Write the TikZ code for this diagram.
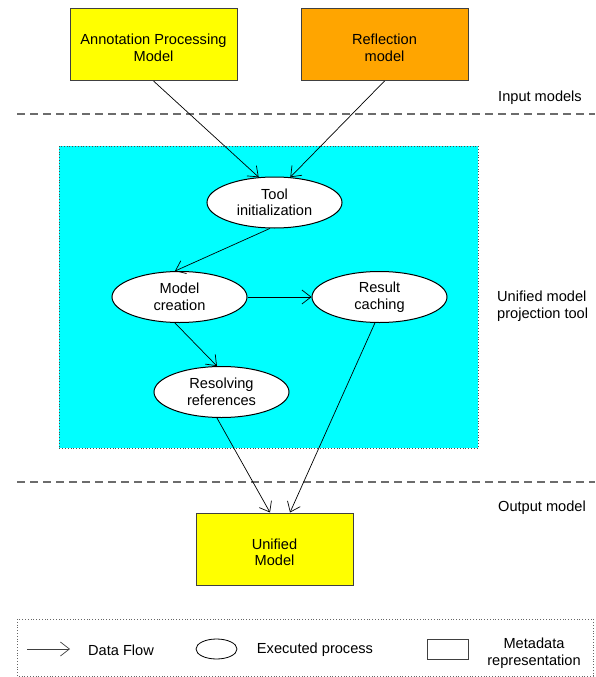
\documentclass[tikz,border=0pt]{standalone}
\usepackage{fontspec}
\setmainfont{Liberation Sans}
\usetikzlibrary{shapes.geometric,arrows.meta}
\definecolor{boxyellow}{HTML}{FFFF00}
\definecolor{boxorange}{HTML}{FFA500}
\definecolor{areacyan}{HTML}{00FFFF}
\definecolor{edgegray}{HTML}{404040}
\newcommand{\lowerfirst}{\rule{0pt}{17pt}}
\tikzset{
  txt/.style={font=\fontsize{14.6}{16.5}\selectfont, align=center, inner sep=0pt},
  modelbox/.style={txt, draw=edgegray, line width=1pt, rectangle, minimum width=167pt, minimum height=72pt},
  proc/.style={txt, draw=black, line width=1pt, fill=white, ellipse, minimum width=135pt, minimum height=51pt},
  flow/.style={draw=black, line width=0.7pt, -{Straight Barb[length=9pt,width=14pt,line width=0.7pt]}},
  sep/.style={draw=gray!85!black, line width=1.5pt, dash pattern=on 8pt off 5pt},
  sidelabel/.style={txt, anchor=west, align=left}
}
\begin{document}
\begin{tikzpicture}[x=1pt,y=-1pt]
\useasboundingbox (0,0) rectangle (595,677);
% separators
\draw[sep] (17,114) -- (595,114);
\draw[sep] (17,482) -- (595,482);
% cyan area
\draw[fill=areacyan, draw=black!70, line width=0.8pt, dotted] (59,146) rectangle (478,448);
% input models
\node[modelbox, fill=boxyellow] (apm) at (153.5,44.5) {\lowerfirst Annotation Processing\\Model};
\node[modelbox, fill=boxorange] (refl) at (384.5,44.5) {\lowerfirst Reflection\\model};
% processes
\node[proc] (tool) at (274.5,202.5) {Tool\\initialization};
\node[proc] (mc) at (179.5,297) {Model\\creation};
\node[proc] (rc) at (379.5,297) {Result\\caching};
\node[proc] (rr) at (221.5,392) {Resolving\\references};
% output
\node[modelbox, fill=boxyellow, minimum width=157pt] (um) at (274.5,549) {\lowerfirst Unified\\Model};
% side labels
\node[sidelabel] (lin) at (498,98) {Input models};
\node[sidelabel] (lproj) at (497,306) {Unified model\\projection tool};
\node[sidelabel] (lout) at (498,508) {Output model};
% flows
\draw[flow] (apm.south) -- (tool.122);
\draw[flow] (refl.south) -- (tool.58);
\draw[flow] (tool.260) -- (mc.100);
\draw[flow] (mc.east) -- (rc.west);
\draw[flow] (mc.260) -- (rr.100);
\draw[flow] (rr.260) -- (um.97);
\draw[flow] (rc.260) -- (um.67);
% legend
\draw[draw=black!60, line width=0.8pt, dotted] (17,619) rectangle (593,676);
\coordinate (la1) at (27,649);
\coordinate (la2) at (70,649);
\draw[flow, draw=black!75] (la1) -- (la2);
\node[txt] (ldf) at (121,650) {Data Flow};
\node[draw=black, line width=0.8pt, ellipse, minimum width=41pt, minimum height=20pt, inner sep=0pt] (lell) at (216.5,649) {};
\node[txt] (lep) at (315,650) {Executed process};
\node[draw=edgegray, line width=1pt, rectangle, minimum width=41pt, minimum height=20pt, inner sep=0pt] (lrect) at (447.5,649) {};
\node[txt] (lmr) at (534,653) {Metadata\\representation};
\end{tikzpicture}
\end{document}
